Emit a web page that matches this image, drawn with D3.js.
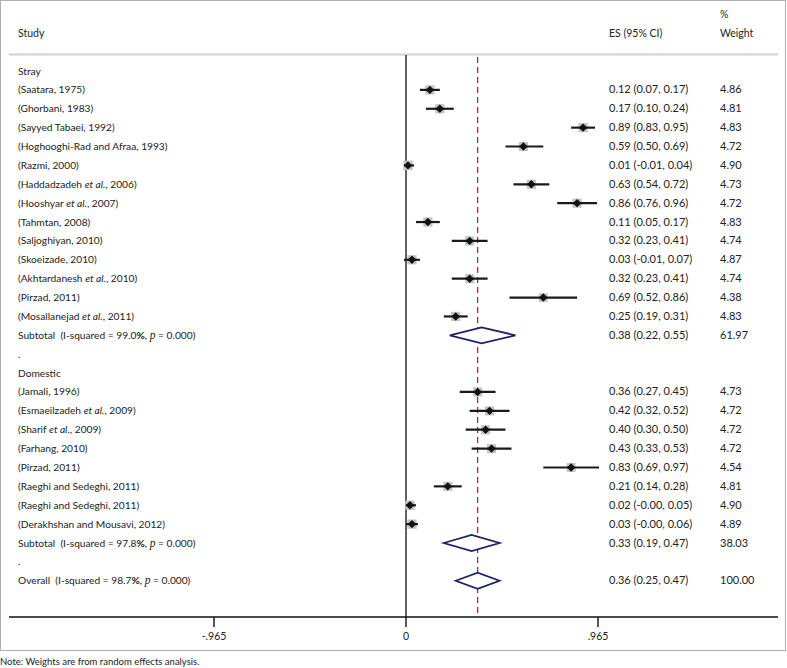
<!DOCTYPE html>
<html><head><meta charset="utf-8">
<script src="https://cdn.jsdelivr.net/npm/d3@7"></script>
<style>
body{margin:0;background:#fff;}
svg text{font-family:Lato,"Open Sans",sans-serif;font-size:10.5px;fill:#222;white-space:pre;}
svg text.lab{font-size:10.2px;}
svg text.num{font-size:11px;}
</style></head><body>
<svg id="c" width="787" height="668"></svg>
<script>
// ---- data ----
const strayStudies = ["(Saatara, 1975)","(Ghorbani, 1983)","(Sayyed Tabaei, 1992)","(Hoghooghi-Rad and Afraa, 1993)","(Razmi, 2000)","(Haddadzadeh et al., 2006)","(Hooshyar et al., 2007)","(Tahmtan, 2008)","(Saljoghiyan, 2010)","(Skoeizade, 2010)","(Akhtardanesh et al., 2010)","(Pirzad, 2011)","(Mosallanejad et al., 2011)"];
const strayES = [0.12,0.17,0.89,0.59,0.01,0.63,0.86,0.11,0.32,0.03,0.32,0.69,0.25];
const strayLo = [0.07,0.10,0.83,0.50,-0.01,0.54,0.76,0.05,0.23,-0.01,0.23,0.52,0.19];
const strayHi = [0.17,0.24,0.95,0.69,0.04,0.72,0.96,0.17,0.41,0.07,0.41,0.86,0.31];
const strayW = ["4.86","4.81","4.83","4.72","4.90","4.73","4.72","4.83","4.74","4.87","4.74","4.38","4.83"];
const strayLoTxt = ["0.07","0.10","0.83","0.50","-0.01","0.54","0.76","0.05","0.23","-0.01","0.23","0.52","0.19"];

const domStudies = ["(Jamali, 1996)","(Esmaeilzadeh et al., 2009)","(Sharif et al., 2009)","(Farhang, 2010)","(Pirzad, 2011)","(Raeghi and Sedeghi, 2011)","(Raeghi and Sedeghi, 2011)","(Derakhshan and Mousavi, 2012)"];
const domES = [0.36,0.42,0.40,0.43,0.83,0.21,0.02,0.03];
const domLo = [0.27,0.32,0.30,0.33,0.69,0.14,-0.00,-0.00];
const domHi = [0.45,0.52,0.50,0.53,0.97,0.28,0.05,0.06];
const domW = ["4.73","4.72","4.72","4.72","4.54","4.81","4.90","4.89"];
const domLoTxt = ["0.27","0.32","0.30","0.33","0.69","0.14","-0.00","-0.00"];

const subtotalLabels = ["99.0%","97.8%"];
const subtotalES = [0.38,0.33];
const subtotalLo = [0.22,0.19];
const subtotalHi = [0.55,0.47];
const subtotalW = ["61.97","38.03"];
const overallI2 = "98.7%";
const overallES = 0.36, overallLo = 0.25, overallHi = 0.47, overallW = "100.00";
const tickValues = [-0.965, 0, 0.965];
const tickLabels = ["-.965","0",".965"];
const groupNames = ["Stray","Domestic"];

// ---- layout ----
const svg = d3.select("#c");
const x = d3.scaleLinear().domain([-0.965, 0.965]).range([214, 598]);
const rowY0 = 71, rowH = 18.88;
const y = i => rowY0 + i*rowH;
const fmt = v => v.toFixed(2);

// frame
svg.append("rect").attr("x",0.5).attr("y",0.5).attr("width",785).attr("height",650)
  .attr("fill","none").attr("stroke","#b0b0b0").attr("stroke-width",1);
// header
svg.append("text").attr("x",18).attr("y",37).text("Study");
svg.append("text").attr("x",609).attr("y",37).text("ES (95% CI)");
svg.append("text").attr("x",720).attr("y",18).text("%");
svg.append("text").attr("x",720).attr("y",37).text("Weight");
svg.append("line").attr("x1",9).attr("x2",778).attr("y1",54.5).attr("y2",54.5)
  .attr("stroke","#d0d0d0").attr("stroke-width",2);

// build rows
const rows = [];
function addStudies(names, es, lo, hi, w, loTxt){
  names.forEach((n,i)=>rows.push({type:"study",label:n,es:es[i],lo:lo[i],hi:hi[i],w:w[i],
    ci: fmt(es[i])+" ("+loTxt[i]+", "+fmt(hi[i])+")"}));
}
rows.push({type:"group",label:groupNames[0]});
addStudies(strayStudies,strayES,strayLo,strayHi,strayW,strayLoTxt);
rows.push({type:"sub",label:"Subtotal",i2:subtotalLabels[0],es:subtotalES[0],lo:subtotalLo[0],hi:subtotalHi[0],w:subtotalW[0]});
rows.push({type:"dot"});
rows.push({type:"group",label:groupNames[1]});
addStudies(domStudies,domES,domLo,domHi,domW,domLoTxt);
rows.push({type:"sub",label:"Subtotal",i2:subtotalLabels[1],es:subtotalES[1],lo:subtotalLo[1],hi:subtotalHi[1],w:subtotalW[1]});
rows.push({type:"dot"});
rows.push({type:"sub",label:"Overall",i2:overallI2,es:overallES,lo:overallLo,hi:overallHi,w:overallW});

const axisY = 617;
// zero line
svg.append("line").attr("x1",x(0)).attr("x2",x(0)).attr("y1",55).attr("y2",axisY)
  .attr("stroke","#3a3a3a").attr("stroke-width",1.6);
// overall dashed line
svg.append("line").attr("x1",x(overallES)).attr("x2",x(overallES)).attr("y1",57).attr("y2",axisY)
  .attr("stroke","#8a3a4a").attr("stroke-width",1.3).attr("stroke-dasharray","6,4");

rows.forEach((r,i)=>{
  const yy = y(i);
  const ty = yy+3.5;
  if(r.type==="group"){
    svg.append("text").attr("class","lab").attr("x",18).attr("y",ty).text(r.label);
  } else if(r.type==="dot"){
    svg.append("text").attr("class","lab").attr("x",18).attr("y",ty).text(".");
  } else if(r.type==="study"){
    const t = svg.append("text").attr("class","lab").attr("x",18).attr("y",ty);
    const parts = r.label.split("et al.");
    if(parts.length>1){
      t.append("tspan").text(parts[0]);
      t.append("tspan").attr("font-style","italic").text("et al.");
      t.append("tspan").text(parts[1]);
    } else t.text(r.label);
    svg.append("text").attr("class","num").attr("x",609).attr("y",ty).text(r.ci);
    svg.append("text").attr("class","num").attr("x",720).attr("y",ty).text(r.w);
    const s = 4.2*Math.sqrt(+r.w);
    svg.append("rect").attr("x",x(r.es)-s/2).attr("y",yy-s/2).attr("width",s).attr("height",s)
      .attr("fill","#c4c4c4");
    svg.append("line").attr("x1",x(r.lo)).attr("x2",x(r.hi)).attr("y1",yy).attr("y2",yy)
      .attr("stroke","#1a1a1a").attr("stroke-width",2.2);
    const d=4.2;
    svg.append("path").attr("d",`M${x(r.es)-d},${yy}L${x(r.es)},${yy-d}L${x(r.es)+d},${yy}L${x(r.es)},${yy+d}Z`)
      .attr("fill","#111");
  } else if(r.type==="sub"){
    const t = svg.append("text").attr("class","lab").attr("x",18).attr("y",ty);
    t.append("tspan").text(r.label+"  (I-squared = "+r.i2.replace("%",""));
    t.append("tspan").attr("font-weight","bold").text("%");
    t.append("tspan").text(", ");
    t.append("tspan").attr("font-family","'Liberation Serif',serif").attr("font-style","italic").attr("font-size","11.5px").text("p");
    t.append("tspan").text(" = 0.000)");
    svg.append("text").attr("class","num").attr("x",609).attr("y",ty).text(fmt(r.es)+" ("+fmt(r.lo)+", "+fmt(r.hi)+")");
    svg.append("text").attr("class","num").attr("x",720).attr("y",ty).text(r.w);
    const h=8;
    svg.append("path").attr("d",`M${x(r.lo)},${yy}L${x(r.es)},${yy-h}L${x(r.hi)},${yy}L${x(r.es)},${yy+h}Z`)
      .attr("fill","#fff").attr("stroke","#1f2266").attr("stroke-width",1.8);
  }
});

// axis
const ax = svg.append("g");
ax.append("line").attr("x1",9).attr("x2",778).attr("y1",axisY).attr("y2",axisY)
  .attr("stroke","#111").attr("stroke-width",1.6);
tickValues.forEach((v,i)=>{
  ax.append("line").attr("x1",x(v)).attr("x2",x(v)).attr("y1",axisY).attr("y2",axisY+10)
    .attr("stroke","#111").attr("stroke-width",1.4);
  ax.append("text").attr("x",x(v)).attr("y",axisY+23).attr("text-anchor","middle").text(tickLabels[i]);
});
svg.append("text").attr("x",0).attr("y",665).style("font-size","9.5px").text("Note: Weights are from random effects analysis.");
</script></body></html>
